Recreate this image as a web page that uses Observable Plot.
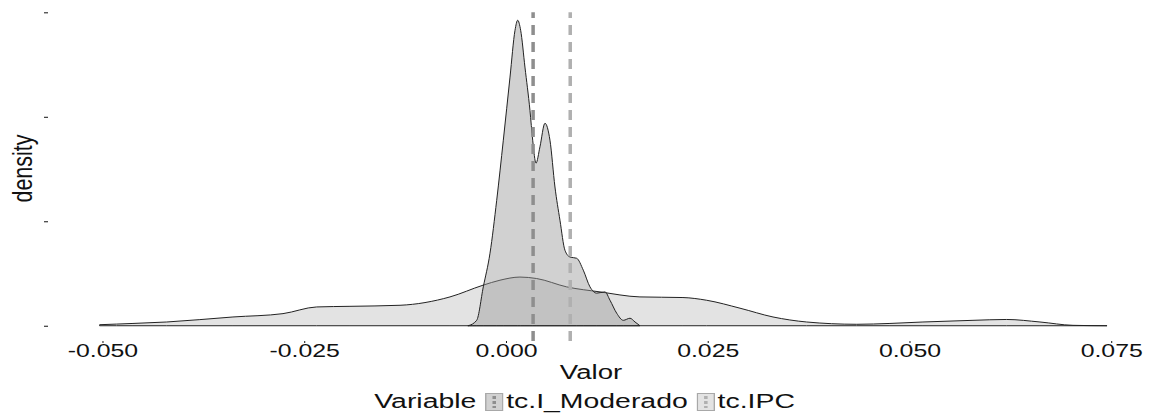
<!DOCTYPE html>
<html>
<head>
<meta charset="utf-8">
<script src="https://cdn.jsdelivr.net/npm/d3@7"></script>
<script src="https://cdn.jsdelivr.net/npm/@observablehq/plot@0.6"></script>
<style>
  html, body { margin: 0; padding: 0; background: #ffffff; }
  body { width: 1149px; height: 420px; position: relative; overflow: hidden; font-family: "Liberation Sans", Arial, sans-serif; }
  #chart { position: absolute; left: 0; top: 0; }
  #legend { position: absolute; left: 586px; top: 390px; transform: translateX(-50%) scaleX(1.42); transform-origin: center; white-space: nowrap; font-size: 20px; color: #111; display: flex; align-items: center; }
  #legend .key { display: inline-block; margin: 0 2px 0 4px; }
  #legend .lab { margin-right: 2px; }
</style>
</head>
<body>
<div id="chart"></div>
<div id="legend"></div>
<script>
// ---- data ----
const seriesNames = ["tc.I_Moderado", "tc.IPC"];
const legendTitle = "Variable";
const xTitle = "Valor";
const yTitle = "density";

// narrow density (tc.I_Moderado)
const moderadoX = [-0.00467, -0.00363, -0.00281, -0.00198, -0.00115, -0.00033, 0.00050, 0.00112, 0.00145, 0.00182, 0.00235, 0.00297, 0.00331, 0.00372, 0.00421, 0.00483, 0.00545, 0.00607, 0.00669, 0.00731, 0.00793, 0.00876, 0.00958, 0.01041, 0.01124, 0.01227, 0.01289, 0.01372, 0.01454, 0.01537, 0.01599, 0.0166];
const moderadoY = [0, 2.6, 18.6, 34.7, 60.0, 88.8, 119.0, 141.4, 146.2, 141.4, 123.8, 103.1, 88.8, 77.8, 85.6, 96.9, 88.8, 66.4, 50.5, 36.1, 32.9, 32.3, 26.6, 18.6, 15.6, 16.2, 12.2, 6.0, 2.6, 3.6, 1.8, 0];

// wide density (tc.IPC)
const ipcX = [-0.05031, -0.04622, -0.04204, -0.03383, -0.02763, -0.02346, -0.01933, -0.01313, -0.00694, -0.00285, -0.00074, 0.00173, 0.0038, 0.00752, 0.01165, 0.0166, 0.02193, 0.02487, 0.029, 0.03309, 0.03726, 0.04346, 0.04758, 0.05167, 0.05787, 0.06204, 0.06617, 0.07026, 0.07448];
const ipcY = [0.5, 1.1, 1.8, 4.2, 5.8, 9.0, 9.3, 9.8, 13.8, 19.4, 21.8, 23.3, 22.6, 18.6, 16.2, 13.8, 13.5, 12.2, 8.4, 4.2, 1.8, 0.7, 1.1, 1.8, 2.6, 3.0, 1.8, 0.2, 0];

// means (dashed vertical lines)
const meanValues = [0.0033, 0.0079];

// ticks
const xTicks = [-0.05, -0.025, 0, 0.025, 0.05, 0.075];
const yTicks = [0, 50, 100, 150];

// ---- build ----
const rows = [
  ...moderadoX.map((x, i) => ({Variable: seriesNames[0], x, y: moderadoY[i]})),
  ...ipcX.map((x, i) => ({Variable: seriesNames[1], x, y: ipcY[i]}))
];
const means = meanValues.map((m, i) => ({Variable: seriesNames[i], mean: m}));

const fills = {"tc.I_Moderado": "#9a9a9a", "tc.IPC": "#c2c2c2"};
const ruleColors = ["#8e8e8e", "#b0b0b0"];

const chart = Plot.plot({
  width: 1149,
  height: 384,
  marginLeft: 48,
  marginRight: 0,
  marginTop: 5,
  marginBottom: 43,
  style: {fontFamily: "'Liberation Sans', Arial, sans-serif", fontSize: "18px", background: "#ffffff", color: "#111"},
  x: {domain: [-0.05675, 0.07968], ticks: xTicks, tickFormat: d => d.toFixed(3), tickSize: 2, tickPadding: 1, label: null},
  y: {domain: [-7.3, 153.5], ticks: yTicks, tickFormat: () => "", tickSize: 4, label: null},
  color: {domain: seriesNames, range: ruleColors},
  marks: [
    Plot.areaY(rows.filter(d => d.Variable === seriesNames[1]), {x: "x", y: "y", fill: fills["tc.IPC"], fillOpacity: 0.45, stroke: "#222", strokeWidth: 1, curve: "monotone-x"}),
    Plot.areaY(rows.filter(d => d.Variable === seriesNames[0]), {x: "x", y: "y", fill: fills["tc.I_Moderado"], fillOpacity: 0.45, stroke: "#222", strokeWidth: 1, curve: "monotone-x"}),
    Plot.ruleX(means, {x: "mean", y1: -7.3, y2: 150, stroke: "Variable", strokeWidth: 3.5, strokeDasharray: "10,7"}),
    Plot.text([xTitle], {frameAnchor: "bottom", dy: 31, dx: -8, fontSize: 20, lineAnchor: "middle", fill: "#111"}),
    Plot.text([yTitle], {frameAnchor: "left", rotate: -90, dx: -25, dy: 29, fontSize: 27, lineAnchor: "middle", fill: "#111"})
  ]
});
document.getElementById("chart").appendChild(chart);

// horizontal stretch of the text, as in the scanned reference (glyph widths adjusted in place)
const SX = 1.38;
chart.querySelectorAll("text").forEach(t => {
  const L = t.getComputedTextLength();
  if (!(L > 0)) return;
  const tr = t.getAttribute("transform") || "";
  const target = /rotate/.test(tr) ? 68 : L * SX;
  t.setAttribute("textLength", target.toFixed(1));
  t.setAttribute("lengthAdjust", "spacingAndGlyphs");
});

// legend
const legend = document.getElementById("legend");
const title = document.createElement("span");
title.textContent = legendTitle;
title.className = "lab";
legend.appendChild(title);
seriesNames.forEach((name, i) => {
  const key = document.createElementNS("http://www.w3.org/2000/svg", "svg");
  key.setAttribute("width", 13); key.setAttribute("height", 18);
  key.setAttribute("class", "key");
  key.innerHTML = `<rect x="0.5" y="0.5" width="12" height="17" fill="${fills[name]}" fill-opacity="0.45" stroke="#a8a8a8"/>` +
    `<line x1="6.5" x2="6.5" y1="3" y2="15" stroke="${ruleColors[i]}" stroke-width="2.5" stroke-dasharray="3,2"/>`;
  legend.appendChild(key);
  const lab = document.createElement("span");
  lab.className = "lab";
  lab.textContent = name;
  legend.appendChild(lab);
});
</script>
</body>
</html>
